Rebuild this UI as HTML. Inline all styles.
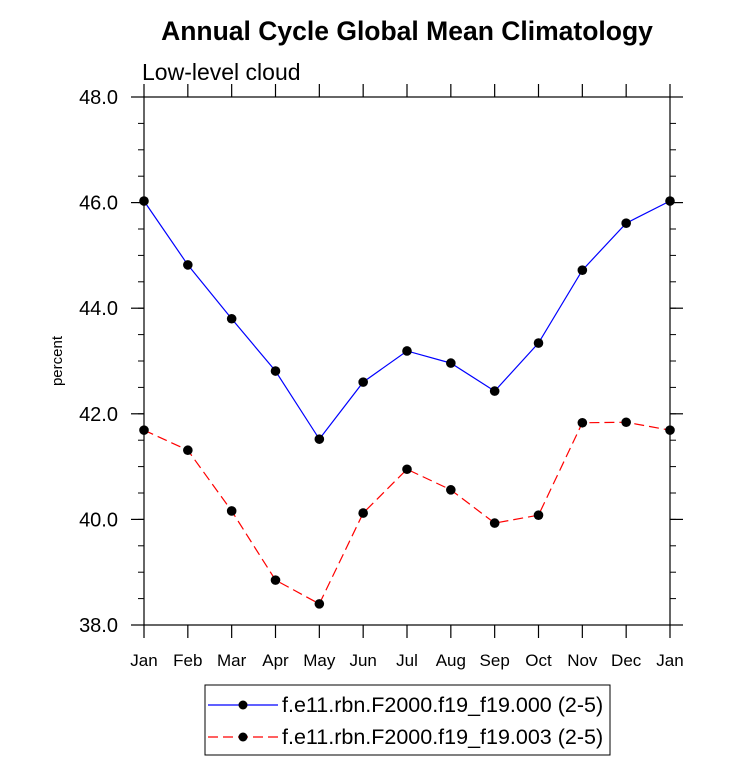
<!DOCTYPE html>
<html><head><meta charset="utf-8"><style>
body{margin:0;background:#fff;}
svg text{font-family:"Liberation Sans",Helvetica,sans-serif;}
</style></head><body>
<svg id="chart" width="733" height="777" xmlns="http://www.w3.org/2000/svg">
<text x="407" y="40" text-anchor="middle" font-size="26.5" font-weight="bold">Annual Cycle Global Mean Climatology</text>
<text x="142" y="80" font-size="23">Low-level cloud</text>
<text x="62" y="361" font-size="15" text-anchor="middle" transform="rotate(-90 62 361)">percent</text>
<g id="axes"></g>
<g id="series"></g>
<g>
<rect x="205" y="685" width="405" height="70" fill="none" stroke="#000" stroke-width="1"/>
<g>
<line x1="208" y1="705" x2="278" y2="705" stroke="#0000ff" stroke-width="1.2"/>
<circle cx="243" cy="705" r="4.5" fill="#000"/>
<text x="282" y="712" font-size="21.5">f.e11.rbn.F2000.f19_f19.000 (2-5)</text>
</g>
<g>
<line x1="208" y1="737" x2="278" y2="737" stroke="#ff0000" stroke-width="1.2" stroke-dasharray="10,5"/>
<circle cx="243" cy="737" r="4.5" fill="#000"/>
<text x="282" y="744" font-size="21.5">f.e11.rbn.F2000.f19_f19.003 (2-5)</text>
</g>
</g>
</svg>
<script>
const months = ["Jan","Feb","Mar","Apr","May","Jun","Jul","Aug","Sep","Oct","Nov","Dec","Jan"];
const series000 = [46.03,44.82,43.80,42.81,41.52,42.60,43.19,42.96,42.43,43.34,44.72,45.61,46.03];
const series003 = [41.69,41.31,40.16,38.85,38.40,40.12,40.95,40.56,39.93,40.08,41.83,41.84,41.69];
const yTicks = [38,40,42,44,46,48];
const yTickLabels = ["38.0","40.0","42.0","44.0","46.0","48.0"];

const NS="http://www.w3.org/2000/svg";
const X0=144,X1=670,Y0=97,Y1=625,YMIN=38,YMAX=48;
const xs=i=>X0+(X1-X0)*i/(months.length-1);
const ys=v=>Y1-(v-YMIN)/(YMAX-YMIN)*(Y1-Y0);
function mk(tag,attrs,parent){const e=document.createElementNS(NS,tag);for(const k in attrs)e.setAttribute(k,attrs[k]);parent.appendChild(e);return e;}
const axes=document.getElementById('axes');
const frame=mk('rect',{x:X0,y:Y0,width:X1-X0,height:Y1-Y0,fill:'none',stroke:'#000','stroke-width':1.2},axes);


yTicks.forEach((v,i)=>{
  const y=ys(v);
  mk('line',{x1:X0,y1:y,x2:X0-13,y2:y,stroke:'#000','stroke-width':1.2},axes);
  mk('line',{x1:X1,y1:y,x2:X1+13,y2:y,stroke:'#000','stroke-width':1.2},axes);
  const t=mk('text',{x:X0-26,y:y+7,'text-anchor':'end','font-size':20},axes);
  t.textContent=yTickLabels[i];
  
  
});
for(let v=YMIN;v<=YMAX;v+=0.5){
  const y=ys(v);
  mk('line',{x1:X0,y1:y,x2:X0-6,y2:y,stroke:'#000'},axes);
  mk('line',{x1:X1,y1:y,x2:X1+6,y2:y,stroke:'#000'},axes);
}
months.forEach((m,i)=>{
  const x=xs(i);
  mk('line',{x1:x,y1:Y1,x2:x,y2:Y1+13,stroke:'#000','stroke-width':1.2},axes);
  mk('line',{x1:x,y1:Y0,x2:x,y2:Y0-13,stroke:'#000','stroke-width':1.2},axes);
  const t=mk('text',{x:x,y:Y1+41,'text-anchor':'middle','font-size':17},axes);
  t.textContent=m;
  
  
});
const sg=document.getElementById('series');
function draw(vals,color,dash,name){
  const g=mk('g',{},sg);
  
  
  const p=mk('polyline',{points:vals.map((v,i)=>xs(i)+','+ys(v)).join(' '),fill:'none',stroke:color,'stroke-width':1.2},g);
  if(dash)p.setAttribute('stroke-dasharray',dash);
  
  
  vals.forEach((v,i)=>{
    const c=mk('circle',{cx:xs(i),cy:ys(v),r:4.8,fill:'#000'},g);
    
    
  });
}
draw(series000,'#0000ff',null,'series-000');
draw(series003,'#ff0000','10,5','series-003');
</script>
</body></html>
